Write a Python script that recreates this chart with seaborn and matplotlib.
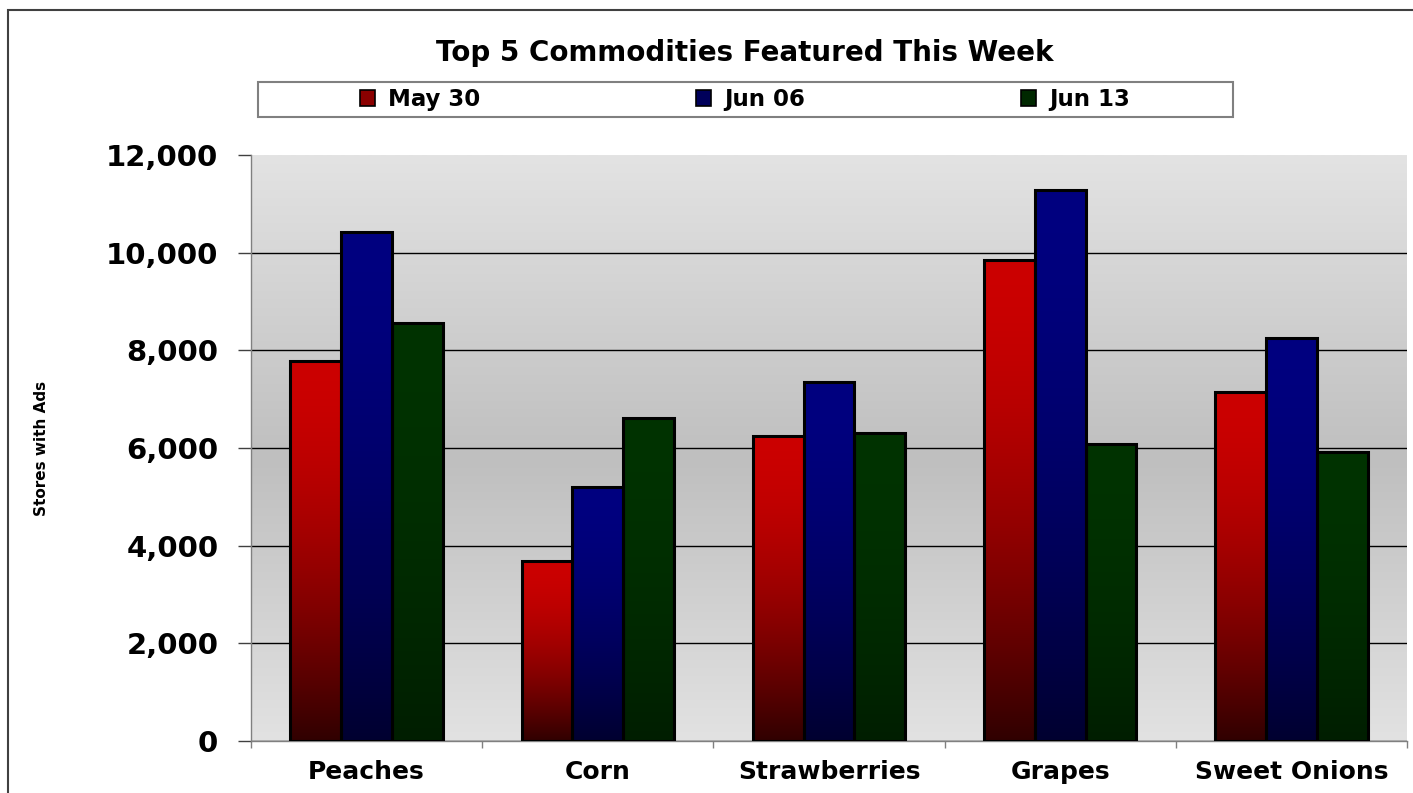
import matplotlib
matplotlib.use('Agg')
import numpy as np
import pandas as pd
import seaborn as sns
import matplotlib.pyplot as plt
from matplotlib.patches import Patch, Rectangle
from matplotlib.colors import to_rgb
from matplotlib.ticker import FuncFormatter, FixedLocator

commodities = ['Peaches', 'Corn', 'Strawberries', 'Grapes', 'Sweet Onions']
weeks = ['May 30', 'Jun 06', 'Jun 13']
may30 = [7780, 3690, 6250, 9850, 7150]
jun06 = [10420, 5200, 7350, 11280, 8250]
jun13 = [8560, 6610, 6310, 6080, 5920]

# bar gradient: top colour, bottom colour
tops = ['#cc0000', '#000080', '#003300']
bottoms = ['#300000', '#000030', '#001e00']
legend_cols = ['#8b0000', '#00005a', '#002800']

df = pd.DataFrame({'commodity': commodities * 3,
                   'week': np.repeat(weeks, len(commodities)),
                   'stores': may30 + jun06 + jun13})

sns.set_style('white')
plt.rcParams['font.family'] = ['DejaVu Sans']
plt.rcParams['text.color'] = 'black'
plt.rcParams['axes.labelcolor'] = 'black'
plt.rcParams['xtick.labelcolor'] = 'black'
plt.rcParams['ytick.labelcolor'] = 'black'

W, H = 1413, 793
fig = plt.figure(figsize=(W / 100, H / 100), dpi=100)
ax = fig.add_axes([251 / W, 1 - 741 / H, (1407 - 251) / W, (741 - 155) / H])

sns.barplot(data=df, x='commodity', y='stores', hue='week', order=commodities,
            hue_order=weeks, palette=tops, width=0.66, edgecolor='black',
            linewidth=2.2, ax=ax, legend=False, zorder=4)

# plot area background: light - dark - light
n = 400
t = np.linspace(0, 1, n)  # 0 at bottom, 1 at top
lo, mid, hi = 0xe2 / 255, 0xbf / 255, 0xe3 / 255
split = 0.48
g = np.where(t < split, lo + (mid - lo) * t / split, mid + (hi - mid) * (t - split) / (1 - split))
bg = np.repeat(g[:, None, None], 3, axis=2)
ax.imshow(bg, extent=[-0.5, 4.5, 0, 12000], origin='lower', aspect='auto', zorder=0)

# per-bar vertical gradients
for i, cont in enumerate(ax.containers):
    top = np.array(to_rgb(tops[i]))
    bot = np.array(to_rgb(bottoms[i]))
    for p in cont:
        x0, w, h = p.get_x(), p.get_width(), p.get_height()
        f = (1 - np.linspace(0, 1, 256)) ** 1.7  # 1 at bottom row, 0 at top
        img = top[None, :] + (bot - top)[None, :] * f[:, None]
        ax.imshow(img[:, None, :], extent=[x0, x0 + w, 0, h], origin='lower',
                  aspect='auto', zorder=3)
        p.set_facecolor('none')

ax.set_xlim(-0.5, 4.5)
ax.set_ylim(0, 12000)
ax.set_axisbelow(True)
ax.set_yticks(range(0, 12001, 2000))
ax.yaxis.grid(True, color='black', linewidth=1)
ax.xaxis.grid(False)
ax.get_ygridlines()[-1].set_visible(False)
ax.yaxis.set_major_formatter(FuncFormatter(lambda v, _: f'{v:,.0f}'))

for s in ['top', 'right']:
    ax.spines[s].set_visible(False)
for s in ['left', 'bottom']:
    ax.spines[s].set_color('#808080')
    ax.spines[s].set_linewidth(1)

ax.tick_params(axis='y', direction='out', length=9.5, width=1, color='#404040',
               pad=14, labelsize=21, left=True)
ax.tick_params(axis='x', which='major', length=0, pad=14, labelsize=18)
ax.xaxis.set_minor_locator(FixedLocator(np.arange(-0.5, 5, 1)))
ax.tick_params(axis='x', which='minor', direction='out', length=5, width=1,
               color='#808080', bottom=True)
for lab in ax.get_xticklabels() + ax.get_yticklabels():
    lab.set_fontweight('bold')

ax.set_xlabel('')
ax.set_ylabel('Stores with Ads', fontsize=11, fontweight='bold')
ax.yaxis.set_label_coords((49 - 251) / (1407 - 251), 0.5)

fig.text(745 / W, 1 - 53 / H, 'Top 5 Commodities Featured This Week',
         ha='center', va='center', fontsize=20, fontweight='bold')

# legend box
fig.add_artist(Rectangle((258 / W, 1 - 117 / H), 975 / W, 35 / H, transform=fig.transFigure,
                         facecolor='white', edgecolor='#808080', linewidth=1.5))
handles = [Patch(facecolor=c, edgecolor='black', linewidth=1.2) for c in legend_cols]
fig.legend(handles, weeks, loc='center', bbox_to_anchor=(745 / W, 1 - 99.5 / H),
           ncol=3, frameon=False, columnspacing=9.4, handlelength=0.65,
           handleheight=0.65, handletextpad=0.6,
           prop={'size': 16.5, 'weight': 'bold'})

# outer chart frame (clipped at right and bottom)
fig.add_artist(Rectangle((8 / W, -0.5), 2, 1.5 - 10 / H, transform=fig.transFigure,
                         fill=False, edgecolor='#404040', linewidth=1.5))

fig.savefig('out.png', dpi=100)
